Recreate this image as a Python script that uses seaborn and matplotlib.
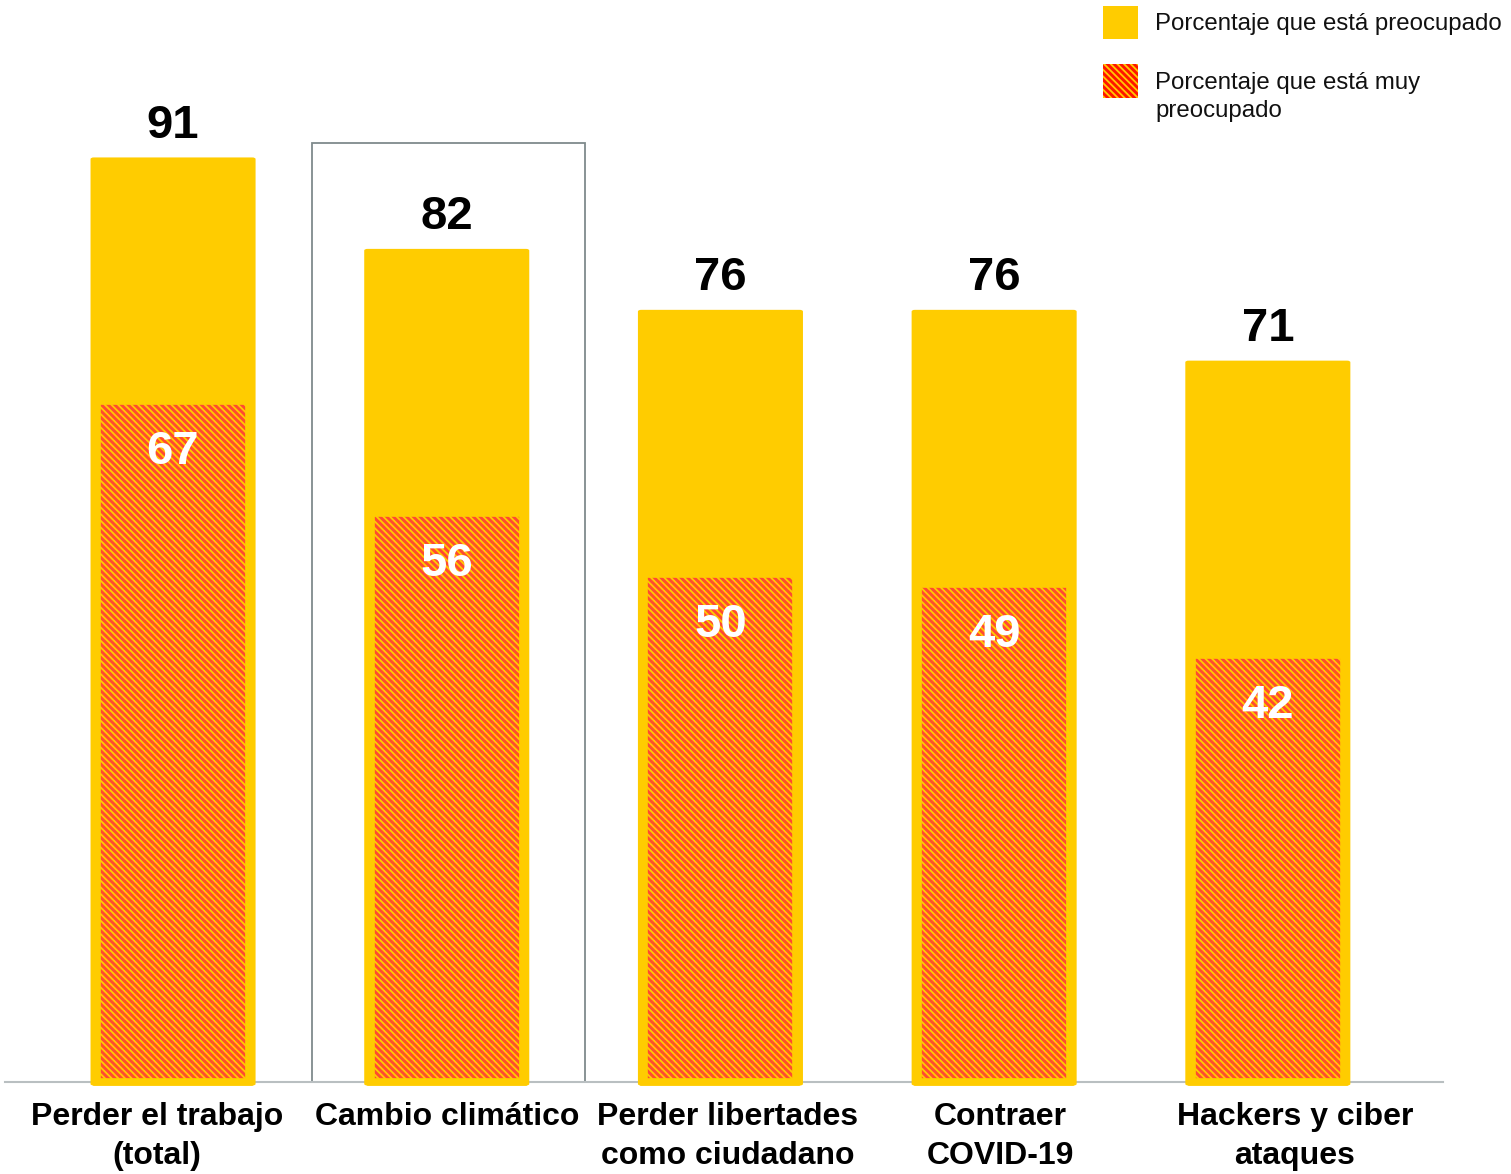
import matplotlib
matplotlib.use("Agg")
import matplotlib.pyplot as plt
from matplotlib.patches import Rectangle, FancyBboxPatch
import matplotlib.transforms as mtransforms
import seaborn as sns
import pandas as pd

# Data
categorias = [
    "Perder el trabajo\n(total)",
    "Cambio climático",
    "Perder libertades\ncomo ciudadano",
    "Contraer\nCOVID-19",
    "Hackers y ciber\nataques",
]
preocupado = [91, 82, 76, 76, 71]
muy_preocupado = [67, 56, 50, 49, 42]
leyenda = ["Porcentaje que está preocupado", "Porcentaje que está muy\npreocupado"]

AMARILLO = "#FFCC00"
ROJO = "#FF4A30"
ROJO_LEYENDA = "#FF1500"
GRIS = "#B9BFC1"
HATCH = "\\\\\\\\\\"

sns.set_theme(style="white")
plt.rcParams["font.family"] = ["Liberation Sans", "DejaVu Sans"]
plt.rcParams["hatch.linewidth"] = 1.3

df = pd.DataFrame({"categoria": categorias,
                   "preocupado": preocupado,
                   "muy_preocupado": muy_preocupado})

W, H = 1511, 1174
fig = plt.figure(figsize=(W / 100, H / 100), dpi=100)
ax = fig.add_axes([5 / W, (H - 1082) / H, (1443 - 5) / W, (1082 - 66) / H])

# Outer bars: worried
sns.barplot(data=df, x="categoria", y="preocupado", color=AMARILLO,
            saturation=1, width=0.603, ax=ax, linewidth=0)
n_out = len(ax.patches)
# Inner hatched bars: very worried
sns.barplot(data=df, x="categoria", y="muy_preocupado", color=ROJO,
            saturation=1, width=0.555, ax=ax, edgecolor=AMARILLO,
            linewidth=5.5, hatch=HATCH)

patches = list(ax.patches)
outer, inner = patches[:n_out], patches[n_out:]
for p in inner:
    p.set_zorder(2)
    p.set_clip_on(False)

# Give the outer bars slightly rounded top corners
for p in outer:
    x0, y0 = p.get_x(), p.get_y()
    w, h = p.get_width(), p.get_height()
    p.set_visible(False)
    rb = FancyBboxPatch((x0, y0 - 0.35), w, h + 0.35,
                        boxstyle="round,pad=0,rounding_size=0.012",
                        mutation_aspect=100 / 5.254 * (1016 / 1438),
                        facecolor=AMARILLO, linewidth=0, zorder=1,
                        clip_on=False)
    ax.add_patch(rb)

ax.set_xlim(-0.614, 4.64)
ax.set_ylim(0, 100)
ax.set_xlabel("")
ax.set_ylabel("")
ax.set_yticks([])
ax.set_xticks(range(len(categorias)))
ax.set_xticklabels([])
ax.tick_params(axis="x", length=0)
for s in ["top", "right", "left"]:
    ax.spines[s].set_visible(False)
ax.spines["bottom"].set_color(GRIS)
ax.spines["bottom"].set_linewidth(1.5)
ax.spines["bottom"].set_zorder(0.5)

# Category labels (slight horizontal shifts in pixels)
label_shift = [-16, 0, 7, 6, 27]
for i, (cat, dx) in enumerate(zip(categorias, label_shift)):
    tr = ax.get_xaxis_transform() + mtransforms.ScaledTranslation(dx / 100, -20 / 100, fig.dpi_scale_trans)
    ax.text(i, 0, cat, transform=tr, ha="center", va="top", fontsize=23,
            fontweight="bold", color="black", linespacing=1.4)

# Value labels
for i, (v, m) in enumerate(zip(preocupado, muy_preocupado)):
    ax.text(i, v + 1.95, str(v), ha="center", va="baseline", fontsize=34,
            fontweight="bold", color="black", zorder=3)
    ax.text(i, m - 6.2, str(m), ha="center", va="baseline", fontsize=34,
            fontweight="bold", color="white", zorder=3)

# Highlight box around the second category
ax.add_patch(Rectangle((1 - 0.492, 0), 0.997, 92.4, fill=False,
                       edgecolor="#7F8A8C", linewidth=1.3, zorder=0.4,
                       clip_on=False))

# Legend
def fx(px):
    return px / W

def fy(py):
    return 1 - py / H

fig.add_artist(Rectangle((fx(1103), fy(39)), 35 / W, 33 / H,
                         transform=fig.transFigure, facecolor=AMARILLO,
                         linewidth=0))
fig.add_artist(Rectangle((fx(1103), fy(98)), 35 / W, 34 / H,
                         transform=fig.transFigure, facecolor=ROJO_LEYENDA,
                         edgecolor=AMARILLO, linewidth=0, hatch=HATCH))
fig.text(fx(1155), fy(24), leyenda[0], ha="left", va="center",
         fontsize=17.3, color="#111111")
fig.text(fx(1155), fy(72), leyenda[1], ha="left", va="top",
         fontsize=17.3, color="#111111", linespacing=1.38)

fig.savefig("out.png", dpi=100, facecolor="white")
